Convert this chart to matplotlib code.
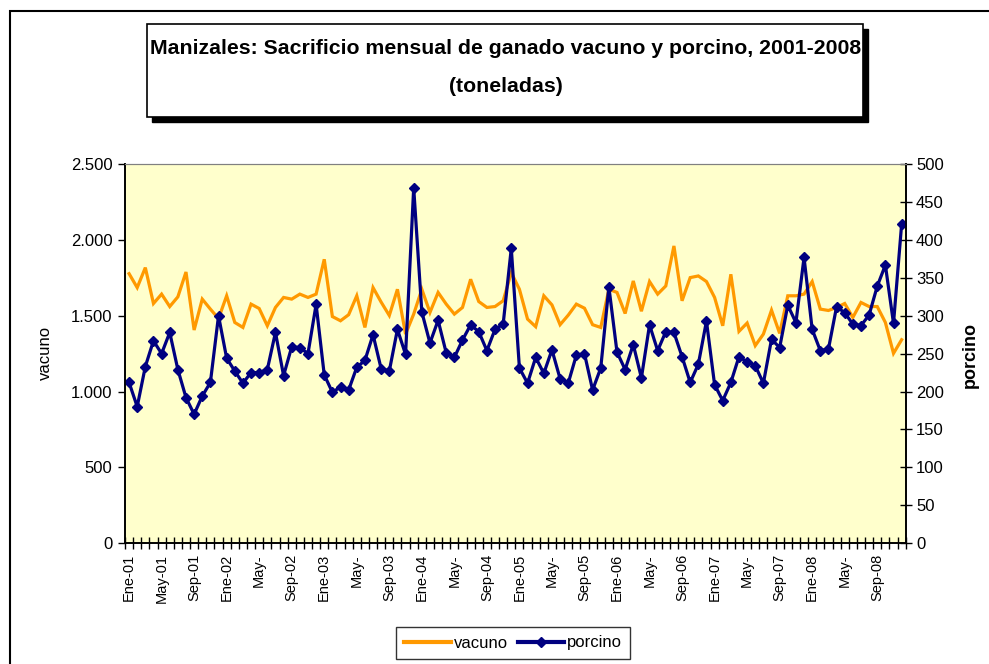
import numpy as np
import matplotlib
matplotlib.use("Agg")
import matplotlib.pyplot as plt
from matplotlib.patches import Rectangle
from matplotlib.lines import Line2D
from matplotlib.ticker import FuncFormatter

# monthly data, Ene-01 .. Dic-08
vacuno = [1778, 1686, 1818, 1581, 1643, 1561, 1625, 1789, 1406, 1610, 1544, 1482,
          1632, 1456, 1423, 1577, 1548, 1434, 1555, 1621, 1610, 1643, 1621, 1643,
          1873, 1495, 1467, 1507, 1632, 1423, 1686, 1590, 1502, 1675, 1379, 1511,
          1675, 1522, 1654, 1577, 1511, 1555, 1741, 1594, 1555, 1561, 1599, 1785,
          1675, 1478, 1428, 1632, 1572, 1441, 1504, 1577, 1550, 1441, 1423, 1675,
          1654, 1515, 1730, 1530, 1726, 1643, 1697, 1961, 1599, 1752, 1763, 1726,
          1621, 1434, 1774, 1397, 1452, 1303, 1379, 1537, 1384, 1632, 1632, 1643,
          1726, 1544, 1535, 1555, 1581, 1489, 1588, 1561, 1561, 1456, 1252, 1342]
porcino = [212, 180, 233, 267, 250, 278, 229, 192, 170, 194, 212, 300,
           244, 227, 211, 225, 225, 229, 278, 221, 259, 258, 250, 315,
           222, 199, 206, 202, 232, 241, 275, 230, 227, 282, 249, 469,
           305, 264, 294, 251, 245, 268, 288, 279, 254, 282, 289, 389,
           231, 211, 245, 224, 255, 217, 211, 248, 250, 202, 231, 338,
           252, 229, 262, 218, 288, 254, 279, 278, 246, 212, 236, 293,
           209, 188, 212, 246, 239, 234, 211, 269, 258, 314, 291, 377,
           282, 254, 256, 312, 304, 289, 287, 301, 339, 367, 290, 421]
tick_labels = ["Ene-01", "May-01", "Sep-01", "Ene-02", "May-", "Sep-02",
               "Ene-03", "May-", "Sep-03", "Ene-04", "May-", "Sep-04",
               "Ene-05", "May-", "Sep-05", "Ene-06", "May-", "Sep-06",
               "Ene-07", "May-", "Sep-07", "Ene-08", "May-", "Sep-08"]

W, H = 989, 664
plt.rcParams["font.family"] = ["Liberation Sans", "DejaVu Sans"]

fig = plt.figure(figsize=(W / 100, H / 100), dpi=100)
fig.patch.set_facecolor("white")

# outer chart border
fig.add_artist(Rectangle((10 / W, -0.1), 1.1, (H - 11) / H + 0.1,
                         transform=fig.transFigure, fill=False,
                         edgecolor="black", linewidth=1.5))

# title box with shadow
fig.add_artist(Rectangle((152 / W, (H - 122) / H), 716 / W, 93 / H,
                         transform=fig.transFigure, facecolor="black",
                         edgecolor="black"))
fig.add_artist(Rectangle((147 / W, (H - 117) / H), 716 / W, 93 / H,
                         transform=fig.transFigure, facecolor="white",
                         edgecolor="black", linewidth=1.2))
fig.text(506 / W, (H - 49) / H,
         "Manizales: Sacrificio mensual de ganado vacuno y porcino, 2001-2008",
         ha="center", va="center", fontsize=15.3, fontweight="bold")
fig.text(506 / W, (H - 87) / H, "(toneladas)", ha="center", va="center",
         fontsize=15.3, fontweight="bold")

# plot area
left, right, top, bottom = 125, 905.7, 164.3, 543
ax = fig.add_axes([left / W, (H - bottom) / H, (right - left) / W, (bottom - top) / H])
ax.set_facecolor("#FFFFCC")
x = np.arange(len(vacuno))
ax.plot(x, vacuno, color="#FF9900", linewidth=2.3, solid_joinstyle="miter")
ax.set_xlim(-0.5, len(vacuno) - 0.5)
ax.set_ylim(0, 2500)
ax.set_yticks(np.arange(0, 2501, 500))
ax.yaxis.set_major_formatter(FuncFormatter(lambda v, p: f"{int(v):,}".replace(",", ".")))
ax.tick_params(axis="y", direction="out", length=5, width=1, labelsize=12, pad=4)

ax.set_xticks(x[::4])
ax.set_xticklabels(tick_labels, rotation=90, fontsize=10.5)
ax.set_xticks(np.arange(-0.5, len(vacuno), 1), minor=True)
ax.tick_params(axis="x", which="major", length=0, pad=8)
ax.tick_params(axis="x", which="minor", direction="inout", length=8, width=1)

ax2 = ax.twinx()
ax2.plot(x, porcino, color="#000080", linewidth=2.3, marker="D", markersize=5)
ax2.set_ylim(0, 500)
ax2.set_yticks(np.arange(0, 501, 50))
ax2.tick_params(axis="y", direction="inout", length=9, width=1, labelsize=12, pad=3)

for a in (ax, ax2):
    a.spines["top"].set_color("#808080")
    for s in ("left", "right", "bottom"):
        a.spines[s].set_color("black")
        a.spines[s].set_linewidth(1.2)

fig.text(45 / W, (H - 353) / H, "vacuno", rotation=90, ha="center", va="center",
         fontsize=12)
fig.text(970 / W, (H - 355) / H, "porcino", rotation=90, ha="center", va="center",
         fontsize=13, fontweight="bold")

handles = [Line2D([], [], color="#FF9900", linewidth=3),
           Line2D([], [], color="#000080", linewidth=3, marker="D", markersize=5)]
leg = fig.legend(handles, ["vacuno", "porcino"], ncol=2, loc="center",
                 bbox_to_anchor=(513 / W, (H - 643) / H), fontsize=12,
                 frameon=True, fancybox=False, handlelength=2.8,
                 handletextpad=0.15, columnspacing=0.6, borderpad=0.5)
leg.get_frame().set_edgecolor("black")
leg.get_frame().set_linewidth(1.0)

fig.savefig("out.png", dpi=100)
